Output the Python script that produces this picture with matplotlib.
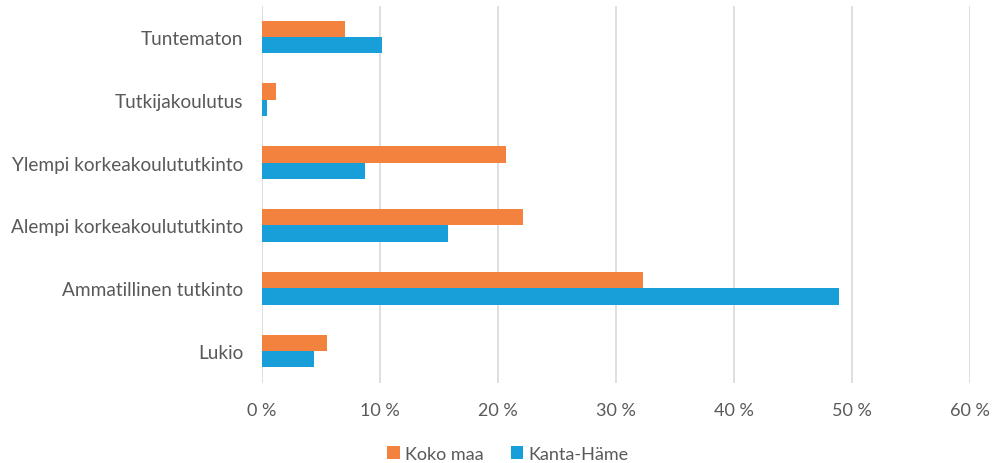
import matplotlib
matplotlib.use("Agg")
import matplotlib.pyplot as plt
import numpy as np

categories = ["Lukio", "Ammatillinen tutkinto", "Alempi korkeakoulututkinto",
              "Ylempi korkeakoulututkinto", "Tutkijakoulutus", "Tuntematon"]
koko_maa = [5.5, 32.3, 22.1, 20.7, 1.2, 7.0]
kanta_hame = [4.4, 48.9, 15.8, 8.7, 0.4, 10.2]
x_ticks = [0, 10, 20, 30, 40, 50, 60]

ORANGE = "#F4823F"
BLUE = "#189FDA"
TEXT = "#595959"
GRID = "#D9D9D9"

plt.rcParams["font.family"] = ["Lato", "DejaVu Sans"]

fig = plt.figure(figsize=(9.93, 4.64), dpi=100)
ax = fig.add_axes([262 / 993, 1 - 383.5 / 464, (970 - 262) / 993, 377 / 464])

y = np.arange(len(categories))
h = 0.26
ax.barh(y + h / 2, koko_maa, height=h, color=ORANGE, label="Koko maa", zorder=3)
ax.barh(y - h / 2, kanta_hame, height=h, color=BLUE, label="Kanta-Häme", zorder=3)

ax.set_xlim(0, 60)
ax.set_ylim(-0.5, len(categories) - 0.5)
ax.set_xticks(x_ticks)
ax.set_xticklabels([f"{t} %" for t in x_ticks])
ax.set_yticks(y)
ax.set_yticklabels(categories)
ax.tick_params(axis="x", length=0, labelsize=13, colors=TEXT, pad=14)
ax.tick_params(axis="y", length=0, labelsize=13.7, colors=TEXT, pad=13.5)
ax.grid(axis="x", color=GRID, linewidth=1.2, zorder=0)
for s in ax.spines.values():
    s.set_visible(False)

handles, labels = ax.get_legend_handles_labels()
fig.legend(handles, labels, loc="center", bbox_to_anchor=(508 / 993, 1 - 455 / 464),
           ncol=2, frameon=False, fontsize=13, labelcolor=TEXT,
           handlelength=0.7, handleheight=0.7, handletextpad=0.3, columnspacing=1.5)

fig.savefig("out.png", dpi=100)
